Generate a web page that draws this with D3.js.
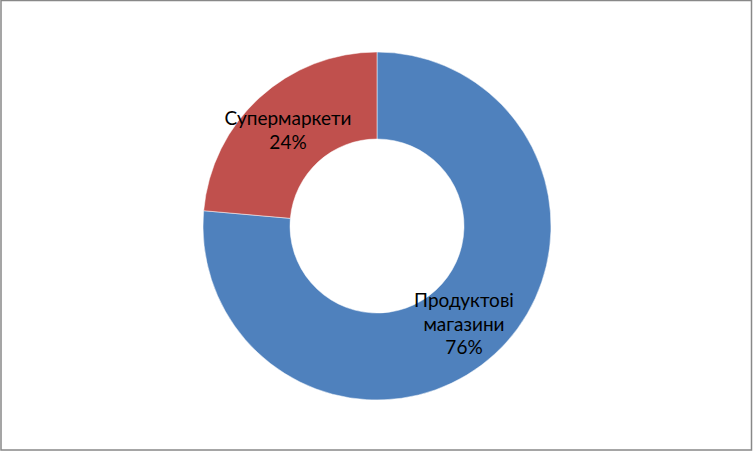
<!DOCTYPE html>
<html><head><meta charset="utf-8">
<script src="https://cdn.jsdelivr.net/npm/d3@7"></script>
<style>html,body{margin:0;padding:0;background:#fff;}</style>
</head><body>
<svg id="c" width="753" height="451"></svg>
<script>
const categories = ["Продуктові магазини", "Супермаркети"];
const values = [76.4, 23.6];
const labelLines = [["Продуктові", "магазини", "76%"], ["Супермаркети", "24%"]];
const colors = ["#4F81BD", "#C0504D"];

const svg = d3.select("#c");
svg.append("rect").attr("x", 1).attr("y", 0.5).attr("width", 750.5).attr("height", 449.5)
  .attr("fill", "#fff").attr("stroke", "#888").attr("stroke-width", 1.5);

const cx = 377, cy = 226, rOut = 174, rIn = 87;
const pie = d3.pie().sort(null).value(d => d)(values);
const arc = d3.arc().innerRadius(rIn).outerRadius(rOut);
const g = svg.append("g").attr("transform", `translate(${cx},${cy})`);
g.selectAll("path").data(pie).join("path")
  .attr("d", arc).attr("fill", (d, i) => colors[i])
  .attr("stroke", "#fff").attr("stroke-width", 0.5);

const labelPos = [[464, 307], [288, 125]];
g.selectAll("text.lbl").data(pie).join("text").attr("class", "lbl")
  .attr("font-family", "Lato, 'Open Sans', sans-serif").attr("font-size", 19)
  .attr("fill", "#000").attr("text-anchor", "middle")
  .each(function(d, i) {
    const t = d3.select(this);
    const x = labelPos[i][0] - cx, baseY = labelPos[i][1] - cy;
    labelLines[i].forEach((s, k) => {
      t.append("tspan").attr("x", x).attr("y", baseY + k * 23.5).text(s);
    });
  });
</script>
</body></html>
